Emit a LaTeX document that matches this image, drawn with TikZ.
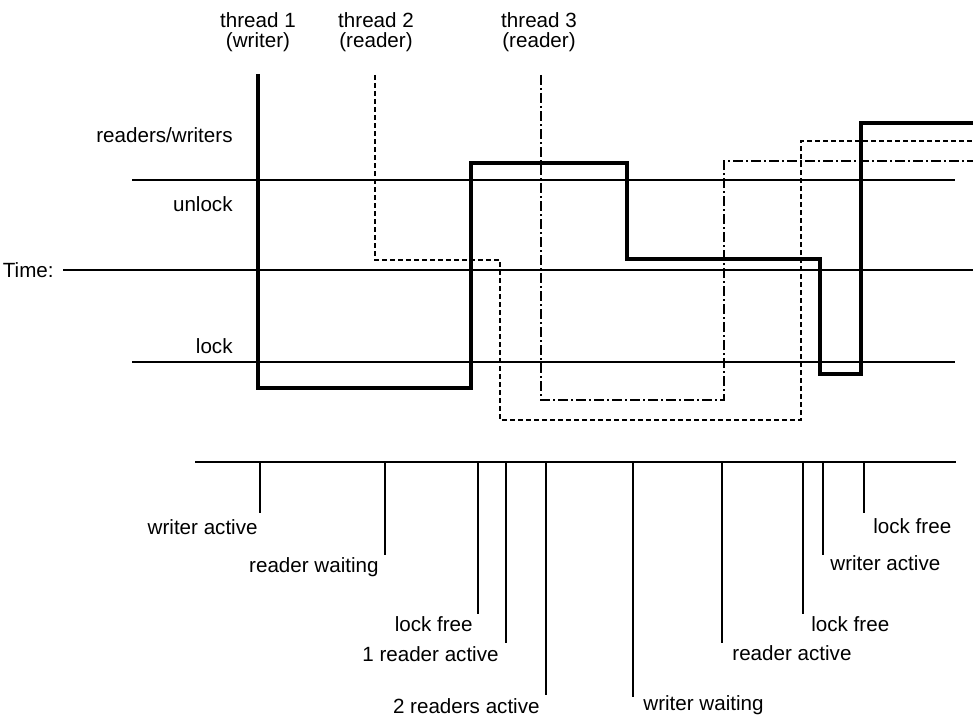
\documentclass[tikz,border=0pt]{standalone}
\usepackage{fontspec}
\setmainfont{Liberation Sans}
\usepackage{tikz}
\usetikzlibrary{positioning}

\tikzset{
  lbl/.style={inner sep=0pt, font=\fontsize{10.3}{10}\selectfont},
  level/.style={line width=1pt, black},
  tickline/.style={line width=1pt, black},
  writer/.style={line width=2pt, black},
  readerA/.style={line width=1pt, black, dash pattern=on 2.5pt off 1.5pt},
  readerB/.style={line width=1pt, black, dash pattern=on 5pt off 1.5pt on 1pt off 1.5pt}
}

\begin{document}
\begin{tikzpicture}[x=0.5pt,y=-0.5pt]
    \useasboundingbox (0,0) rectangle (973,717);
    % Thread headers
    \node[lbl, anchor=north, align=center] (thr1) at (258,12) {thread 1\\(writer)};
    \node[lbl, anchor=north, align=center] (thr2) at (376,12) {thread 2\\(reader)};
    \node[lbl, anchor=north, align=center] (thr3) at (539,12) {thread 3\\(reader)};
    % Level names
    \node[lbl, anchor=base east] (rw) at (233,142) {readers/writers};
    \node[lbl, anchor=base east] (unl) at (233,211) {unlock};
    \node[lbl, anchor=base east] (time) at (54,277) {Time:};
    \node[lbl, anchor=base east] (lck) at (233,353) {lock};
    % Level lines
    \coordinate (tl) at (63,270);
    \draw[level] (132,180) -- (955,180);
    \draw[level] (tl) -- (973,270);
    \draw[level] (132,362) -- (955,362);
    % Threads
    \draw[readerB] (541,75) |- (724,400) |- (973,161);
    \draw[readerA] (375,75) |- (500,260) |- (801,420) |- (973,141);
    \draw[writer] (258,74) |- (471,388) |- (627,163) |- (820,259) |- (861,374) |- (973,123);
    % Event axis
    \coordinate (axL) at (195,462);
    \coordinate (axR) at (956,462);
    \draw[level] (axL) -- (axR);
    % Events (left of tick)
    \node[lbl, anchor=base east] (ev1) at (258,534) {writer active};
    \node[lbl, anchor=base east] (ev2) at (379,572) {reader waiting};
    \node[lbl, anchor=base east] (ev3) at (473,631) {lock free};
    \node[lbl, anchor=base east] (ev4) at (499,661) {1 reader active};
    \node[lbl, anchor=base east] (ev5) at (540,713) {2 readers active};
    % Events (right of tick)
    \node[lbl, anchor=base west] (ev6) at (643,710) {writer waiting};
    \node[lbl, anchor=base west] (ev7) at (732,660) {reader active};
    \node[lbl, anchor=base west] (ev8) at (811,631) {lock free};
    \node[lbl, anchor=base west] (ev9) at (830,570) {writer active};
    \node[lbl, anchor=base west] (ev10) at (873,533) {lock free};
    % Tick ends
    \coordinate (tk1) at (260,513);
    \coordinate (tk2) at (385,555);
    \coordinate (tk3) at (478,614);
    \coordinate (tk4) at (506,643);
    \coordinate (tk5) at (546,695);
    \coordinate (tk6) at (633,697);
    \coordinate (tk7) at (722,643);
    \coordinate (tk8) at (803,614);
    \coordinate (tk9) at (823,555);
    \coordinate (tk10) at (864,513);
    \foreach \k in {1,...,10}
      \draw[tickline] (tk\k |- axL) -- (tk\k);
\end{tikzpicture}
\end{document}
